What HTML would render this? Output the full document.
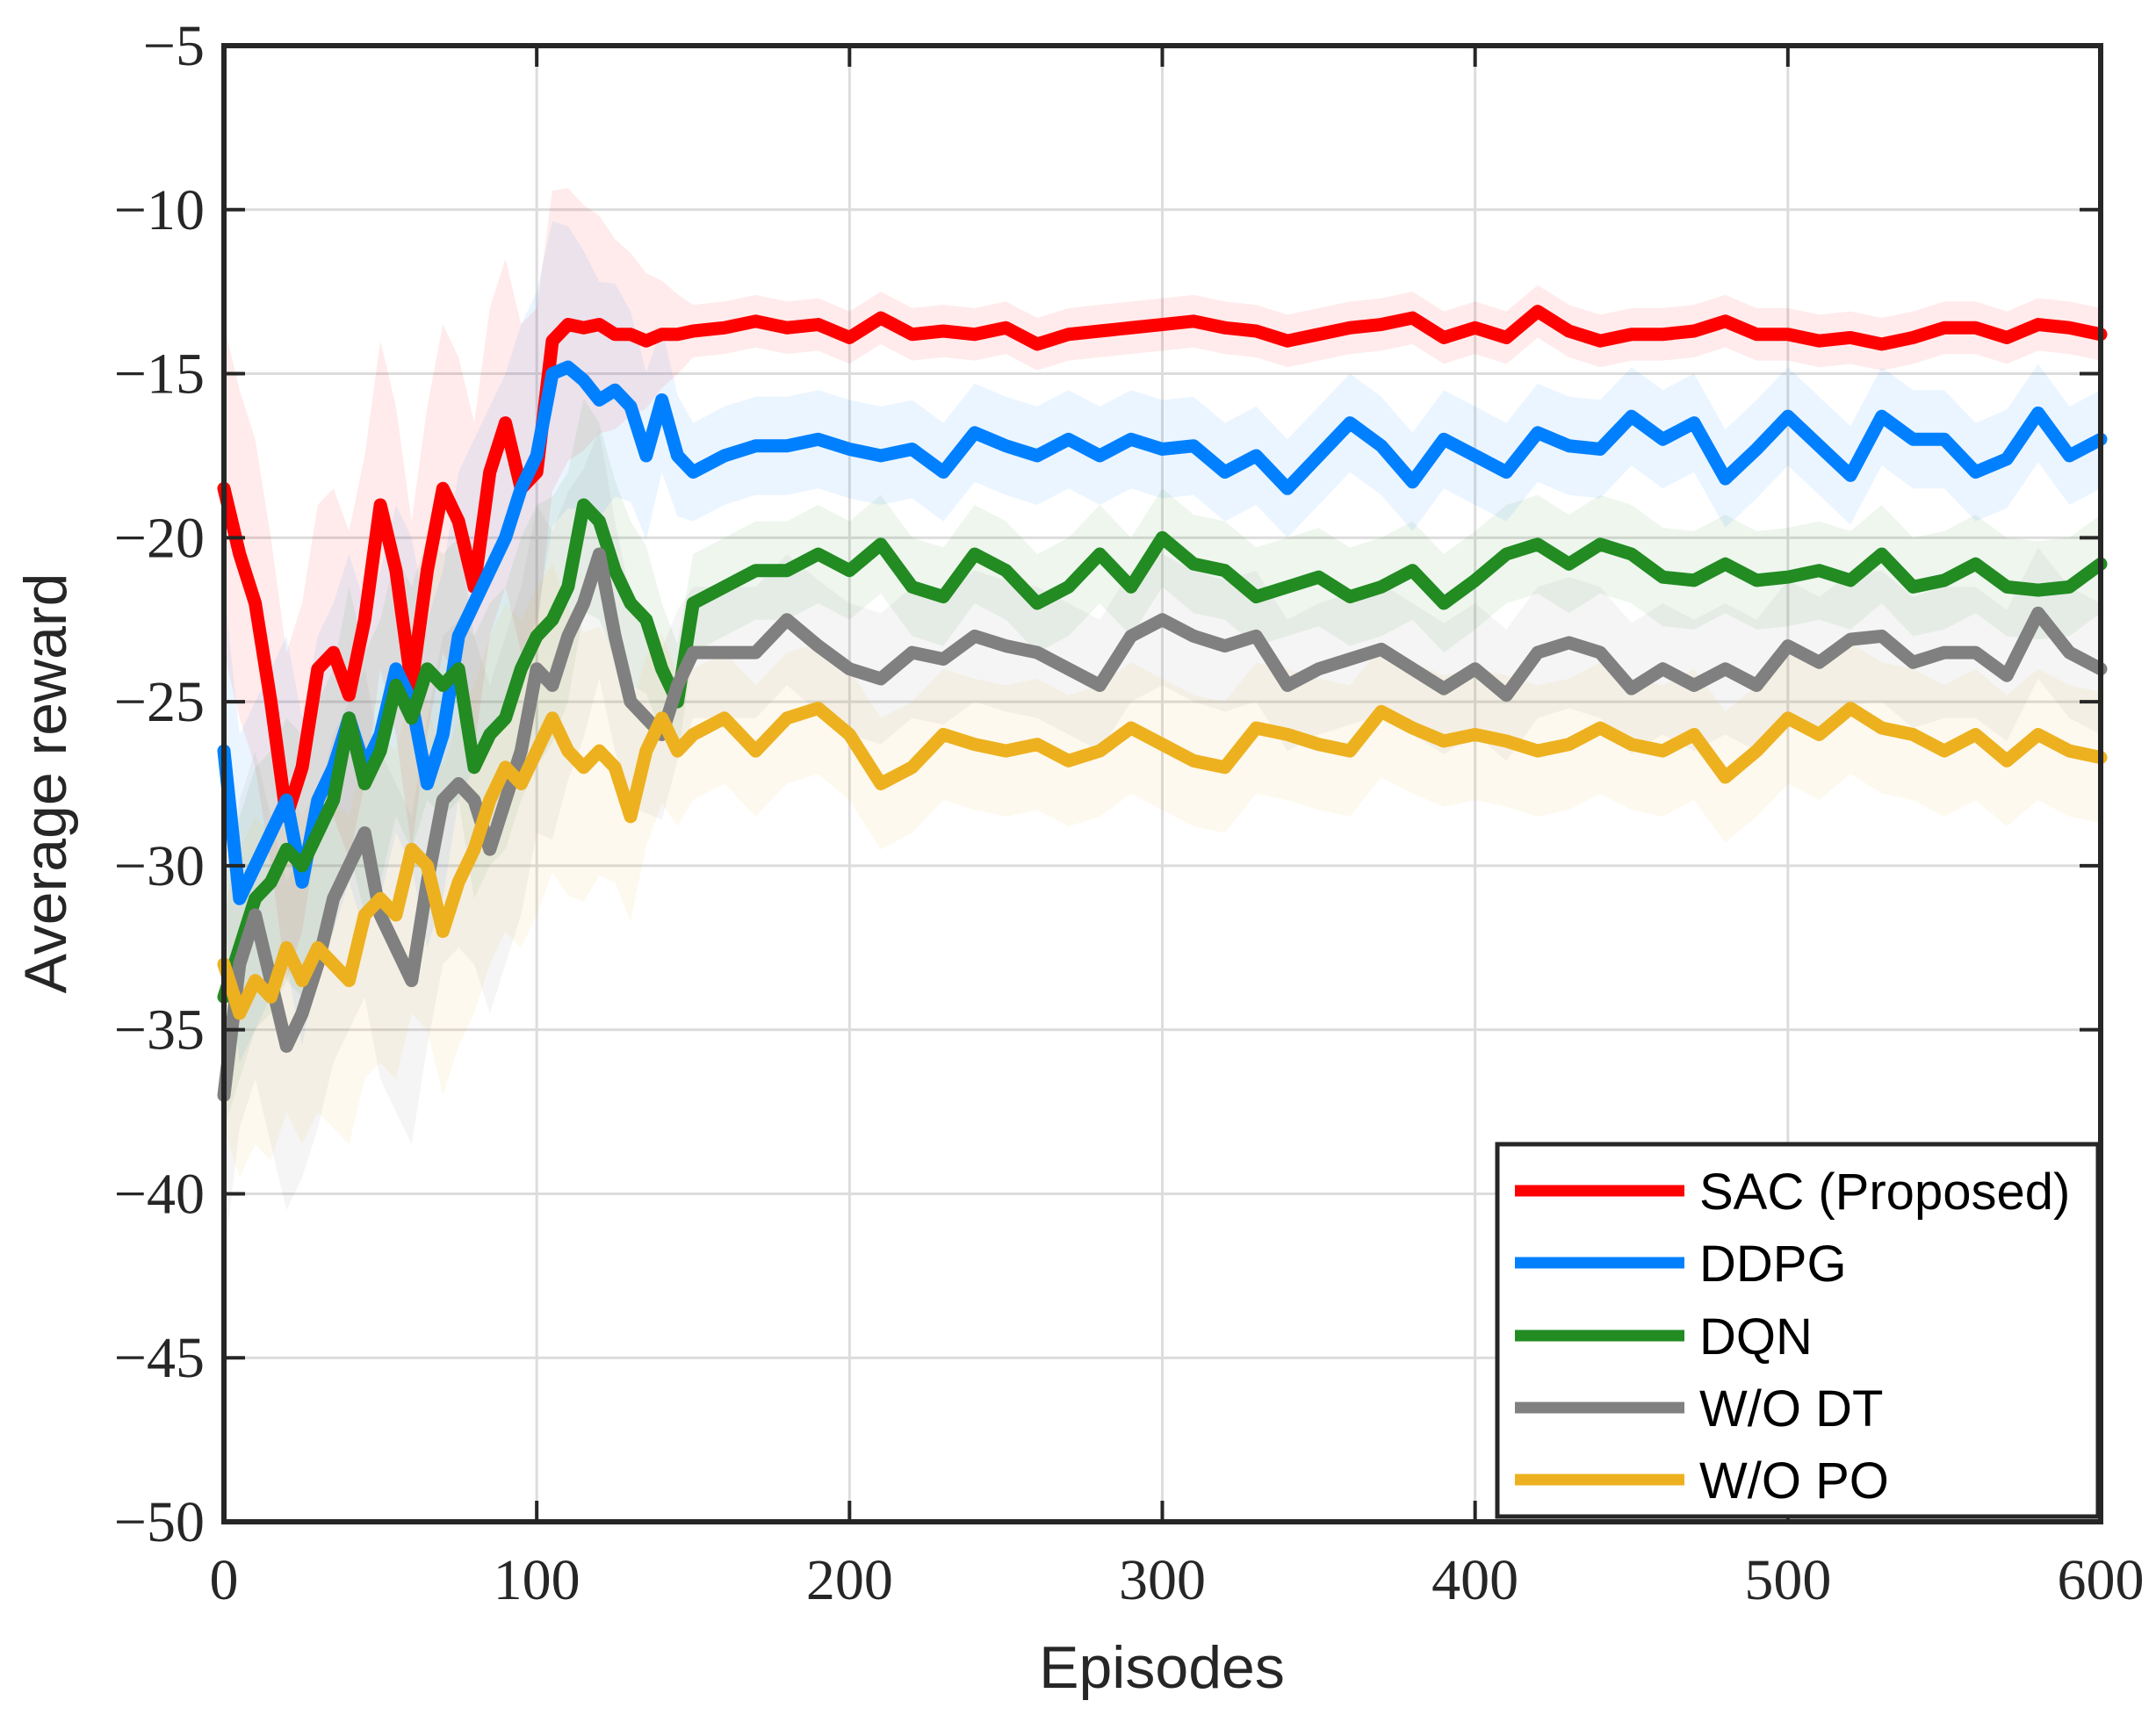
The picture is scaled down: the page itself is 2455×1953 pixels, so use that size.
<!DOCTYPE html>
<html><head><meta charset="utf-8"><style>
html,body{margin:0;padding:0;background:#fff;}
svg{display:block;}
.tick{font-family:"Liberation Serif",serif;font-size:66px;fill:#262626;}
.lab{font-family:"Liberation Sans",sans-serif;font-size:68px;fill:#262626;}
.leg{font-family:"Liberation Sans",sans-serif;font-size:58px;fill:#000;}
</style></head><body>
<svg id="chart" width="2455" height="1953" viewBox="0 0 2455 1953" xmlns="http://www.w3.org/2000/svg">
<rect width="2455" height="1953" fill="#fff"/>
<g id="grid"></g>
<g id="bands"></g>
<g id="lines"></g>
<g id="axes"></g>
<text class="lab" x="1323" y="1922" text-anchor="middle">Episodes</text>
<text class="lab" transform="translate(75,892) rotate(-90)" text-anchor="middle">Average reward</text>
<g id="legend"></g>
</svg>
<script>
const episodes=[0,5,10,15,20,25,30,35,40,45,50,55,60,65,70,75,80,85,90,95,100,105,110,115,120,125,130,135,140,145,150,160,170,180,190,200,210,220,230,240,250,260,270,280,290,300,310,320,330,340,350,360,370,380,390,400,410,420,430,440,450,460,470,480,490,500,510,520,530,540,550,560,570,580,590,600];
const sac=[-18.5,-20.5,-22,-25,-28.5,-27,-24,-23.5,-24.8,-22.5,-19,-21,-24.5,-21,-18.5,-19.5,-21.5,-18,-16.5,-18.5,-18,-14,-13.5,-13.6,-13.5,-13.8,-13.8,-14,-13.8,-13.8,-13.7,-13.6,-13.4,-13.6,-13.5,-13.9,-13.3,-13.8,-13.7,-13.8,-13.6,-14.1,-13.8,-13.7,-13.6,-13.5,-13.4,-13.6,-13.7,-14,-13.8,-13.6,-13.5,-13.3,-13.9,-13.6,-13.9,-13.1,-13.7,-14,-13.8,-13.8,-13.7,-13.4,-13.8,-13.8,-14,-13.9,-14.1,-13.9,-13.6,-13.6,-13.9,-13.5,-13.6,-13.8];
const ddpg=[-26.5,-31,-30,-29,-28,-30.5,-28,-27,-25.5,-27,-26,-24,-25,-27.5,-26,-23,-22,-21,-20,-18.5,-17.5,-15,-14.8,-15.2,-15.8,-15.5,-16,-17.5,-15.8,-17.5,-18,-17.5,-17.2,-17.2,-17,-17.3,-17.5,-17.3,-18,-16.8,-17.2,-17.5,-17,-17.5,-17,-17.3,-17.2,-18,-17.5,-18.5,-17.5,-16.5,-17.2,-18.3,-17,-17.5,-18,-16.8,-17.2,-17.3,-16.3,-17,-16.5,-18.2,-17.3,-16.3,-17.2,-18.1,-16.3,-17,-17,-18,-17.6,-16.2,-17.5,-17];
const dqn=[-34,-32.5,-31,-30.5,-29.5,-30,-29,-28,-25.5,-27.5,-26.5,-24.5,-25.5,-24,-24.5,-24,-27,-26,-25.5,-24,-23,-22.5,-21.5,-19,-19.5,-21,-22,-22.5,-24,-25,-22,-21.5,-21,-21,-20.5,-21,-20.2,-21.5,-21.8,-20.5,-21,-22,-21.5,-20.5,-21.5,-20,-20.8,-21,-21.8,-21.5,-21.2,-21.8,-21.5,-21,-22,-21.3,-20.5,-20.2,-20.8,-20.2,-20.5,-21.2,-21.3,-20.8,-21.3,-21.2,-21,-21.3,-20.5,-21.5,-21.3,-20.8,-21.5,-21.6,-21.5,-20.8];
const wodt=[-37,-33,-31.5,-33.5,-35.5,-34.5,-33,-31,-30,-29,-31.5,-32.5,-33.5,-30.5,-28,-27.5,-28,-29.5,-28,-26.5,-24,-24.5,-23,-22,-20.5,-23,-25,-25.5,-26,-24.5,-23.5,-23.5,-23.5,-22.5,-23.3,-24,-24.3,-23.5,-23.7,-23,-23.3,-23.5,-24,-24.5,-23,-22.5,-23,-23.3,-23,-24.5,-24,-23.7,-23.4,-24,-24.6,-24,-24.8,-23.5,-23.2,-23.5,-24.6,-24,-24.5,-24,-24.5,-23.3,-23.8,-23.1,-23,-23.8,-23.5,-23.5,-24.2,-22.3,-23.5,-24];
const wopo=[-33,-34.5,-33.5,-34,-32.5,-33.5,-32.5,-33,-33.5,-31.5,-31,-31.5,-29.5,-30,-32,-30.5,-29.5,-28,-27,-27.5,-26.5,-25.5,-26.5,-27,-26.5,-27,-28.5,-26.5,-25.5,-26.5,-26,-25.5,-26.5,-25.5,-25.2,-26,-27.5,-27,-26,-26.3,-26.5,-26.3,-26.8,-26.5,-25.8,-26.3,-26.8,-27,-25.8,-26,-26.3,-26.5,-25.3,-25.8,-26.2,-26,-26.2,-26.5,-26.3,-25.8,-26.3,-26.5,-26,-27.3,-26.5,-25.5,-26,-25.2,-25.8,-26,-26.5,-26,-26.8,-26,-26.5,-26.7];
const spreadEarly=[5,5,4,5,5];
const spreadLate=[0.8,1.5,1.5,2,2];
const seriesNames=["SAC (Proposed)","DDPG","DQN","W/O DT","W/O PO"];
const xTicks=[0,100,200,300,400,500,600];
const yTicks=[-50,-45,-40,-35,-30,-25,-20,-15,-10,-5];

const L=255,R=2392,T=52,B=1733;
const X=v=>L+(v-0)/(600-0)*(R-L);
const Y=v=>B-(v-(-50))/(-5-(-50))*(B-T);
const NS="http://www.w3.org/2000/svg";
function mk(tag,attrs,parent){const e=document.createElementNS(NS,tag);for(const k in attrs)e.setAttribute(k,attrs[k]);parent.appendChild(e);return e;}
const colors=["#ff0000","#0080ff","#228b22","#808080","#edb120"];
const data=[sac,ddpg,dqn,wodt,wopo];
const grid=document.getElementById('grid'),axes=document.getElementById('axes');
xTicks.forEach(t=>{
  const g=mk('line',{x1:X(t),x2:X(t),y1:T,y2:B,stroke:'#dcdcdc','stroke-width':3},grid);
  
  
  const tk=mk('line',{x1:X(t),x2:X(t),y1:B,y2:B-24,stroke:'#262626','stroke-width':4},axes);
  
  
  const tk2=mk('line',{x1:X(t),x2:X(t),y1:T,y2:T+24,stroke:'#262626','stroke-width':4},axes);
  
  
  const lb=mk('text',{x:X(t),y:B+88,'text-anchor':'middle',class:'tick'},axes);
  lb.textContent=t;
  
  
});
yTicks.forEach(t=>{
  const g=mk('line',{x1:L,x2:R,y1:Y(t),y2:Y(t),stroke:'#dcdcdc','stroke-width':3},grid);
  
  
  const tk=mk('line',{x1:L,x2:L+24,y1:Y(t),y2:Y(t),stroke:'#262626','stroke-width':4},axes);
  
  
  const tk2=mk('line',{x1:R,x2:R-24,y1:Y(t),y2:Y(t),stroke:'#262626','stroke-width':4},axes);
  
  
  const lb=mk('text',{x:L-22,y:Y(t)+22,'text-anchor':'end',class:'tick'},axes);
  lb.textContent=(t<0?'\u2212':'')+Math.abs(t);
  
  
});
const frame=mk('rect',{x:L,y:T,width:R-L,height:B-T,fill:'none',stroke:'#262626','stroke-width':6},axes);



const bands=document.getElementById('bands'),lines=document.getElementById('lines');
data.forEach((s,i)=>{
  const hw=e=>e<100?spreadEarly[i]:(e<150?spreadEarly[i]+(spreadLate[i]-spreadEarly[i])*(e-100)/50:spreadLate[i]);
  let up=episodes.map((e,j)=>X(e)+','+Y(s[j]+hw(e)));
  let dn=episodes.map((e,j)=>X(e)+','+Y(s[j]-hw(e))).reverse();
  const b=mk('polygon',{points:up.concat(dn).join(' '),fill:colors[i],'fill-opacity':0.08},bands);
  
  
  const p=mk('polyline',{points:episodes.map((e,j)=>X(e)+','+Y(s[j])).join(' '),fill:'none',stroke:colors[i],'stroke-width':15,'stroke-linejoin':'round','stroke-linecap':'round'},lines);
  
  
});

const leg=document.getElementById('legend');
const lb=mk('rect',{x:1705,y:1303,width:684,height:424,fill:'#fff',stroke:'#262626','stroke-width':5},leg);


const ly=[1356,1438,1521,1603,1685];
seriesNames.forEach((n,i)=>{
  const l=mk('line',{x1:1725,x2:1918,y1:ly[i],y2:ly[i],stroke:colors[i],'stroke-width':13},leg);
  
  
  const t=mk('text',{x:1935,y:ly[i]+21,class:'leg'},leg);
  t.textContent=n;
  
  
});
</script>
</body></html>
